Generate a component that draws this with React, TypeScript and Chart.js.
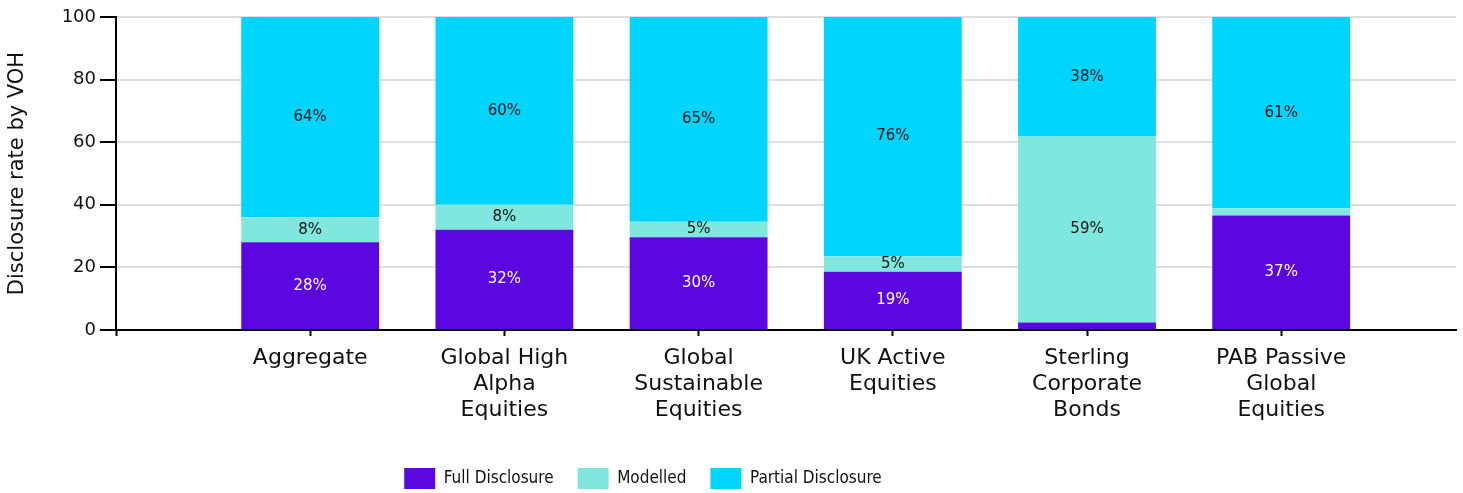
import React, { useEffect, useRef } from "react";
import { Chart, registerables } from "chart.js";

Chart.register(...registerables);

const categoryLabels: string[][] = [
  ["Aggregate"],
  ["Global High", "Alpha", "Equities"],
  ["Global", "Sustainable", "Equities"],
  ["UK Active", "Equities"],
  ["Sterling", "Corporate", "Bonds"],
  ["PAB Passive", "Global", "Equities"],
];
const categoryPositions = [1, 2, 3, 4, 5, 6];

const fullDisclosure = [28, 32, 29.6, 18.6, 2.4, 36.6];
const modelled = [8, 8, 5, 5, 59.4, 2.3];
const partialDisclosure = [64, 60, 65.4, 76.4, 38.2, 61.1];

const yTicks = [0, 20, 40, 60, 80, 100];

const FONT = "'DejaVu Sans', sans-serif";
const LEGEND_FONT = "'Liberation Sans Narrow', 'DejaVu Sans Condensed', sans-serif";
const COLORS = ["#5B08E0", "#80E7DF", "#00D5FF"];
const LABEL_COLORS = ["#ffffff", "#111111", "#111111"];

const toPoints = (vals: number[]) =>
  vals.map((v, i) => ({ x: categoryPositions[i], y: v }));

const barLabelPlugin = {
  id: "barLabels",
  afterLayout(chart: any) {
    const lg = chart.legend;
    if (lg) {
      lg.left -= 85;
      lg.right -= 85;
    }
  },
  afterDatasetsDraw(chart: any) {
    const ctx = chart.ctx;
    ctx.save();
    ctx.font = `15px ${FONT}`;
    ctx.textAlign = "center";
    ctx.textBaseline = "middle";
    chart.data.datasets.forEach((ds: any, di: number) => {
      const meta = chart.getDatasetMeta(di);
      meta.data.forEach((el: any, i: number) => {
        const v = ds.data[i].y;
        if (v < 4) return;
        const p = el.getProps(["x", "y", "base"], true);
        ctx.fillStyle = LABEL_COLORS[di];
        ctx.fillText(`${Math.round(v)}%`, p.x, (p.y + p.base) / 2);
      });
    });
    ctx.restore();
  },
};

export default function App() {
  const ref = useRef<HTMLCanvasElement | null>(null);
  useEffect(() => {
    document.body.style.margin = "0";
    if (!ref.current) return;
    const chart = new Chart(ref.current, {
      type: "bar",
      data: {
        datasets: [
          { label: "Full Disclosure", data: toPoints(fullDisclosure), backgroundColor: COLORS[0] },
          { label: "Modelled", data: toPoints(modelled), backgroundColor: COLORS[1] },
          { label: "Partial Disclosure", data: toPoints(partialDisclosure), backgroundColor: COLORS[2] },
        ] as any,
      },
      options: {
        animation: false,
        responsive: true,
        maintainAspectRatio: false,
        layout: { padding: { top: 17, right: 7, left: 0, bottom: -6 } },
        datasets: { bar: { barPercentage: 0.71, categoryPercentage: 1 } },
        plugins: {
          legend: {
            position: "bottom",
            labels: {
              boxWidth: 31,
              boxHeight: 21,
              padding: 24,
              color: "#111",
              font: { family: LEGEND_FONT, size: 17 },
            },
          },
          tooltip: { enabled: false },
        },
        scales: {
          x: {
            type: "linear",
            stacked: true,
            offset: false,
            min: 0,
            max: 6.9,
            afterBuildTicks: (scale: any) => {
              scale.ticks = [0, ...categoryPositions].map((v) => ({ value: v }));
            },
            ticks: {
              autoSkip: false,
              maxRotation: 0,
              padding: 9,
              color: "#111",
              font: { family: FONT, size: 22, lineHeight: 1.18 },
              callback: (value: any) => (value === 0 ? "" : categoryLabels[value - 1]),
            },
            grid: {
              offset: false,
              drawOnChartArea: false,
              drawTicks: true,
              tickLength: 6,
              tickColor: "#000",
              tickWidth: 2,
            },
            border: { color: "#000", width: 2 },
            afterFit: (scale: any) => {
              scale.height = 114;
            },
          },
          y: {
            stacked: true,
            min: 0,
            max: 100,
            afterBuildTicks: (scale: any) => {
              scale.ticks = yTicks.map((v) => ({ value: v }));
            },
            ticks: {
              padding: 4,
              color: "#111",
              font: { family: FONT, size: 18 },
            },
            grid: {
              color: "#dedede",
              lineWidth: 2,
              drawTicks: true,
              tickLength: 16,
              tickColor: "#000",
              tickWidth: 2,
            },
            border: { color: "#000", width: 2 },
            title: {
              display: true,
              text: "Disclosure rate by VOH",
              color: "#111",
              font: { family: FONT, size: 21 },
              padding: { top: 5, bottom: 0 },
            },
            afterFit: (scale: any) => {
              scale.width = 116;
            },
          },
        },
      },
      plugins: [barLabelPlugin],
    });
    return () => chart.destroy();
  }, []);
  return (
    <div style={{ width: 1463, height: 493, position: "relative" }}>
      <canvas ref={ref} />
    </div>
  );
}
